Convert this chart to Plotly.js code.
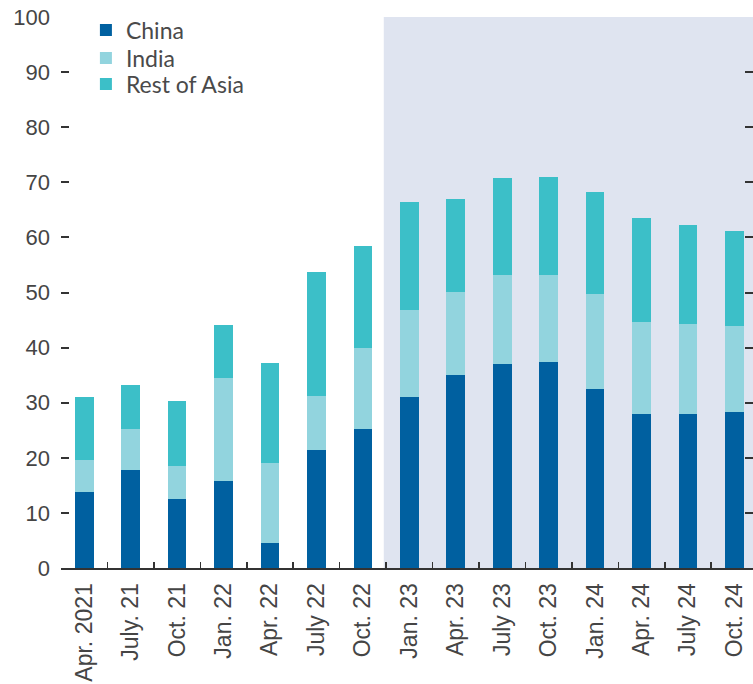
<!DOCTYPE html>
<html><head><meta charset="utf-8">
<script src="https://cdn.plot.ly/plotly-3.0.1.min.js"></script>
<style>html,body{margin:0;padding:0;background:#fff}</style>
</head><body>
<div id="chart" style="width:753px;height:684px"></div>
<script>
const categories = ["Apr. 2021","July. 21","Oct. 21","Jan. 22","Apr. 22","July 22","Oct. 22","Jan. 23","Apr. 23","July 23","Oct. 23","Jan. 24","Apr. 24","July 24","Oct. 24"];
const china = [13.8,17.8,12.6,15.8,4.5,21.4,25.2,31.1,35.0,37.1,37.4,32.5,27.9,27.9,28.3];
const india = [5.8,7.4,5.9,18.6,14.6,9.8,14.7,15.7,15.1,16.1,15.8,17.2,16.8,16.4,15.6];
const restOfAsia = [11.5,8.0,11.8,9.7,18.1,22.5,18.5,19.7,16.8,17.5,17.7,18.5,18.9,17.9,17.3];
const yTicks = [0,10,20,30,40,50,60,70,80,90,100];

const lato = {family: "Lato, 'Open Sans', sans-serif", size: 23, color: "#4a4a4a"};
const arialX = {family: "'Liberation Sans', Arial, sans-serif", size: 23, color: "#454545"};
const arialY = {family: "'Liberation Sans', Arial, sans-serif", size: 22, color: "#454545"};
const traces = [
  {name: "China", x: categories, y: china, type: "bar", marker: {color: "#0060a0"}, legend: "legend"},
  {name: "India", x: categories, y: india, type: "bar", marker: {color: "#92d4de"}, legend: "legend2"},
  {name: "Rest of Asia", x: categories, y: restOfAsia, type: "bar", marker: {color: "#3cbfc8"}, legend: "legend3"}
];
function leg(y) {
  return {x: 0.036, y: y, xanchor: "left", yanchor: "top", bgcolor: "rgba(0,0,0,0)",
          font: lato, itemwidth: 30};
}
const layout = {
  width: 753, height: 684,
  margin: {l: 61, r: 0, t: 17, b: 116},
  barmode: "stack",
  bargap: 0.6,
  paper_bgcolor: "#ffffff",
  plot_bgcolor: "rgba(0,0,0,0)",
  font: lato,
  showlegend: true,
  legend: leg(1.0154),
  legend2: leg(0.9646),
  legend3: leg(0.9174),
  xaxis: {type: "category", range: [-0.5, 14.4], tickson: "boundaries", ticks: "inside",
          ticklen: 6, tickwidth: 1.5, tickcolor: "#333", showline: true, linecolor: "#333",
          linewidth: 2, showgrid: false, zeroline: false, tickangle: -90, tickfont: arialX,
          ticklabelstandoff: 4, automargin: false, fixedrange: true},
  yaxis: {range: [0, 100], tickvals: yTicks, ticks: "inside", ticklen: 8, tickwidth: 2,
          tickcolor: "#333", showline: false, showgrid: false, zeroline: false, mirror: "ticks",
          tickfont: arialY, ticklabelstandoff: 10, automargin: false, fixedrange: true},
  shapes: [{type: "rect", xref: "x", yref: "y", x0: 6.45, x1: 14.4, y0: 0, y1: 100,
            fillcolor: "#dfe4f0", line: {width: 0}, layer: "below"}]
};
Plotly.newPlot("chart", traces, layout, {displayModeBar: false, staticPlot: true});
</script>
</body></html>
